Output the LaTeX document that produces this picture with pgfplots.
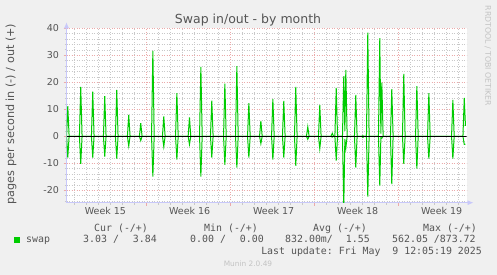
\documentclass[border=0pt]{standalone}
\usepackage{fontspec}
\setmainfont{DejaVu Sans}
\setmonofont{DejaVu Sans Mono}
\usepackage{pgfplots}
\pgfplotsset{compat=1.18}
\usepackage{pgfplotstable}
\usetikzlibrary{arrows.meta}
\definecolor{bgc}{RGB}{240,240,240}
\definecolor{txt}{RGB}{85,85,85}
\definecolor{mgrid}{RGB}{235,170,170}
\definecolor{ngrid}{RGB}{200,200,200}
\definecolor{axc}{RGB}{200,200,250}
\definecolor{swapc}{RGB}{0,204,0}
\definecolor{wm}{RGB}{195,195,195}

\pgfplotstableread{
x y
-6.66 0
-6.56 11.2
-6.45 0
-5.59 0
-5.48 18.3
-5.37 0
-4.59 0
-4.48 16.5
-4.37 0
-3.59 0
-3.48 14.9
-3.37 0
-2.59 0
-2.48 17.2
-2.37 0
-1.59 0
-1.48 7.9
-1.37 0
-0.59 0
-0.48 4.9
-0.37 0
0.42 0
0.53 31.6
0.64 0
1.33 0
1.44 7.4
1.55 0
2.42 0
2.53 16.0
2.64 0
3.47 0
3.58 7.0
3.69 0
4.42 0
4.53 25.7
4.64 0
5.33 0
5.44 13.2
5.55 0
6.42 0
6.53 19.5
6.64 0
7.42 0
7.53 26.0
7.64 0
8.42 0
8.53 12.3
8.64 0
9.42 0
9.53 5.7
9.64 0
10.42 0
10.53 13.8
10.64 0
11.33 0
11.44 13.1
11.55 0
12.33 0
12.44 18.3
12.55 0
13.33 0
13.44 3.5
13.55 0
14.33 0
14.44 11.6
14.55 0
15.37 0
15.48 1.1
15.59 0
15.70 0
15.81 17.9
15.92 0
16.33 0
16.44 22.3
16.53 2
16.61 24.6
16.72 0
17.33 0
17.44 15.3
17.55 0
17.92 0
18.03 0.2
18.14 0
18.33 0
18.44 38.4
18.55 0
19.33 0
19.44 36.4
19.53 1
19.61 19.9
19.72 0
20.33 0
20.44 17.5
20.55 0
21.33 0
21.44 23.1
21.55 0
22.42 0
22.53 18.6
22.64 0
23.42 0
23.53 16.0
23.64 0
25.42 0
25.53 13.5
25.64 0
26.37 0
26.48 14.2
26.58 3.84
}\outdata

\pgfplotstableread{
x y
-6.66 0
-6.56 -7.9
-6.45 0
-5.59 0
-5.48 -10.2
-5.37 0
-4.59 0
-4.48 -7.9
-4.37 0
-3.59 0
-3.48 -7.5
-3.37 0
-2.59 0
-2.48 -8.3
-2.37 0
-1.59 0
-1.48 -3.6
-1.37 0
-0.59 0
-0.48 -1.6
-0.37 0
0.42 0
0.53 -14.9
0.64 0
1.33 0
1.44 -3.8
1.55 0
2.42 0
2.53 -8.6
2.64 0
3.47 0
3.58 -3.0
3.69 0
4.42 0
4.53 -14.9
4.64 0
5.33 0
5.44 -7.9
5.55 0
6.42 0
6.53 -10.6
6.64 0
7.42 0
7.53 -11.6
7.64 0
8.42 0
8.53 -7.9
8.64 0
9.42 0
9.53 -2.7
9.64 0
10.42 0
10.53 -8.6
10.64 0
11.33 0
11.44 -7.9
11.55 0
12.33 0
12.44 -10.9
12.55 0
13.33 0
13.44 -1.1
13.55 0
14.33 0
14.44 -4.6
14.55 0
15.37 0
15.48 -0.3
15.59 0
15.70 0
15.81 -9.0
15.92 0
16.33 0
16.44 -26
16.53 -1
16.61 -4.4
16.72 0
17.33 0
17.44 -11.6
17.55 0
17.92 0
18.03 -0.4
18.14 0
18.33 0
18.44 -22.3
18.55 0
19.33 0
19.44 -18.3
19.53 -0.5
19.61 -0.7
19.72 0
20.33 0
20.44 -17.7
20.55 0
21.33 0
21.44 -10.2
21.55 0
22.42 0
22.53 -12.0
22.64 0
23.42 0
23.53 -8.3
23.64 0
25.42 0
25.53 -8.3
25.64 0
26.37 0
26.48 -3.0
26.58 -3.03
}\indata

\begin{document}
\begin{tikzpicture}[x=1pt,y=1pt]
\fill[bgc] (0,0) rectangle (497,275);
\useasboundingbox (0,0) rectangle (497,275);
\begin{axis}[
  at={(66.5pt,72.3pt)}, anchor=south west,
  scale only axis, width=400pt, height=174.4pt,
  xmin=-6.667, xmax=26.667, ymin=-24.59, ymax=40,
  axis x line=bottom, axis y line=left,
  axis line style={draw=axc, line width=0.8pt},
  every outer x axis line/.append style={-{Latex[length=6pt,width=5pt]}, shorten >=-7pt},
  every outer y axis line/.append style={-{Latex[length=6pt,width=5pt]}, shorten >=-6pt},
  axis background/.style={fill=white},
  xtick={0,7,14,21}, xticklabels={},
  minor xtick={-6,-5,...,26},
  extra x ticks={-3.42,3.6,10.6,17.6,24.6},
  extra x tick labels={Week 15,Week 16,Week 17,Week 18,Week 19},
  extra x tick style={grid=none, major tick length=0pt},
  ytick={-20,-10,0,10,20,30,40},
  minor ytick={-24,-22,...,38},
  grid=both,
  major grid style={draw=mgrid, line width=0.7pt, dash pattern=on 1pt off 1.5pt},
  minor grid style={draw=ngrid, line width=0.7pt, dash pattern=on 1pt off 1.5pt},
  tick align=outside,
  major tick length=3pt, minor tick length=2pt,
  major tick style={draw=mgrid, line width=0.8pt},
  minor tick style={draw=ngrid, line width=0.8pt},
  /pgf/number format/assume math mode=true,
  tick label style={font=\fontsize{9.5}{11}\selectfont, text=txt},
  yticklabel style={xshift=-1pt},
  xticklabel style={yshift=-1pt},
  clip=true,
]
\addplot[swapc, line width=1pt] table[x=x,y=y] {\outdata};
\addplot[swapc, line width=1pt] table[x=x,y=y] {\indata};
\addplot[black, line width=0.9pt] coordinates {(-6.667,0) (26.667,0)};
\end{axis}
% title
\node[anchor=base, text=txt, font=\fontsize{12.5}{14}\selectfont] at (248,251) {Swap in/out - by month};
% y label
\node[rotate=90, text=txt, font=\fontsize{11.2}{13}\selectfont] at (11,161) {pages per second in (-) / out (+)};
% watermark
\node[rotate=-90, text=wm, font=\fontsize{7.8}{9}\selectfont] at (488,219) {RRDTOOL / TOBI OETIKER};
% legend
\begin{scope}[every node/.style={text=txt, font=\fontsize{9.9}{11}\ttfamily, inner sep=0pt}]
\node[anchor=base west] at (94,43) {Cur (-/+)};
\node[anchor=base west] at (204,43) {Min (-/+)};
\node[anchor=base west] at (313,43) {Avg (-/+)};
\node[anchor=base west] at (423,43) {Max (-/+)};
\fill[swapc] (14,31.7) rectangle (20,37.7);
\node[anchor=base west] at (26,32.3) {swap};
\node[anchor=base west] at (83,32.3) {3.03 /};
\node[anchor=base east] at (157,32.3) {3.84};
\node[anchor=base west] at (190,32.3) {0.00 /};
\node[anchor=base east] at (264,32.3) {0.00};
\node[anchor=base west] at (285,32.3) {832.00m/};
\node[anchor=base east] at (370,32.3) {1.55};
\node[anchor=base west] at (392,32.3) {562.05 /873.72};
\node[anchor=base east] at (482,20.7) {Last update: Fri May\ \ 9 12:05:19 2025};
\end{scope}
\node[anchor=base, text=wm, font=\fontsize{7.4}{9}\selectfont, inner sep=0pt] at (248,8) {Munin 2.0.49};
\end{tikzpicture}
\end{document}
